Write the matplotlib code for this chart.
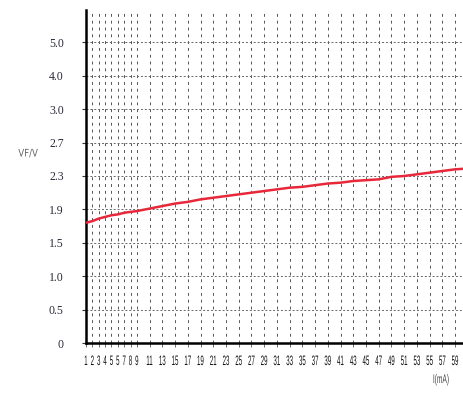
import numpy as np
import matplotlib
matplotlib.use("Agg")
import matplotlib.pyplot as plt
from matplotlib import patheffects
from matplotlib.transforms import Affine2D

# Forward current (mA) and forward voltage (V)
current_ma = [1, 2, 3, 4, 5, 6, 7, 8, 9, 11, 13, 15, 17, 19, 21, 23, 25, 27, 29,
              31, 33, 35, 37, 39, 41, 43, 45, 47, 49, 51, 53, 55, 57, 59, 61]
vf_volts = [1.74, 1.76, 1.79, 1.81, 1.83, 1.84, 1.86, 1.87, 1.88, 1.91, 1.94,
            1.97, 1.99, 2.02, 2.04, 2.06, 2.08, 2.10, 2.12, 2.14, 2.16, 2.17,
            2.19, 2.21, 2.22, 2.24, 2.25, 2.26, 2.29, 2.30, 2.32, 2.34, 2.36,
            2.38, 2.39]

# Voltage axis levels (drawn equally spaced)
y_levels = [0, 0.5, 1.0, 1.5, 1.9, 2.3, 2.7, 3.0, 4.0, 5.0]
y_labels = ["0", "0.5", "1.0", "1.5", "1.9", "2.3", "2.7", "3.0", "4.0", "5.0"]

# Current axis ticks
x_ticks = [1, 2, 3, 4, 5, 6, 7, 8, 9] + list(range(11, 60, 2))
x_labels = ["1", "2", "3", "4", "5", "5", "7", "8", "9"] + [str(v) for v in range(11, 60, 2)]


class Tall(patheffects.AbstractPathEffect):
    """Draw text stretched about its top centre (tall, narrow lettering)."""

    def __init__(self, sx=1.0, sy=1.0):
        super().__init__()
        self.sx, self.sy = sx, sy

    def draw_path(self, renderer, gc, tpath, affine, rgbFace=None):
        v = tpath.vertices
        if len(v):
            cx = 0.5 * (v[:, 0].min() + v[:, 0].max())
            top = v[:, 1].max()
        else:
            cx = top = 0.0
        stretch = (Affine2D().translate(-cx, -top)
                   .scale(self.sx, self.sy).translate(cx, top))
        renderer.draw_path(gc, tpath, stretch + affine, rgbFace)


# Piecewise-linear scale that spaces the voltage levels evenly
lvl_ext = np.array(y_levels + [6.0])
pos_ext = np.arange(len(lvl_ext), dtype=float)


def forward(v):
    return np.interp(np.asarray(v, dtype=float), lvl_ext, pos_ext)


def inverse(p):
    return np.interp(np.asarray(p, dtype=float), pos_ext, lvl_ext)


fig = plt.figure(figsize=(4.64, 3.98), dpi=100)
ax = fig.add_axes([86 / 464, 1 - 343 / 398, 1 - 86 / 464, (343 - 10) / 398])
ax.set_yscale("function", functions=(forward, inverse))

ax.plot(current_ma, vf_volts, color="#e8283a", lw=1.8, solid_capstyle="butt", zorder=3)

ax.set_xlim(1, 60.4)
ax.set_ylim(0, inverse(9.97))

ax.set_yticks(y_levels)
ax.set_yticklabels(y_labels, fontsize=8.5, color="#2a2a38", family=["Liberation Serif"])
ax.set_xticks(x_ticks)
ax.set_xticklabels(x_labels, fontsize=5.2, color="#111111", family=["Liberation Sans"])
for lbl in ax.get_xticklabels():
    lbl.set_path_effects([Tall(0.85, 1.9)])
ax.yaxis.set_minor_locator(matplotlib.ticker.NullLocator())
ax.xaxis.set_minor_locator(matplotlib.ticker.NullLocator())

ax.tick_params(axis="y", length=3, width=0.8, pad=13, color="#333333")
ax.tick_params(axis="x", length=3, width=0.6, pad=6, color="#555555")

ax.grid(True, axis="x", color="#555555", lw=0.7, linestyle=(0, (3, 4)))
ax.grid(True, axis="y", color="#666666", lw=0.7, linestyle=(0, (2, 2)))

for side in ("top", "right"):
    ax.spines[side].set_visible(False)
ax.spines["left"].set_linewidth(1.8)
ax.spines["bottom"].set_linewidth(1.8)

fig.text(28 / 464, 1 - 153 / 398, "VF/V", fontsize=6.5, color="#666666",
         va="center", ha="center", path_effects=[Tall(0.95, 1.15)])
fig.text(441 / 464, 1 - 374 / 398, "I(mA)", fontsize=5, color="#444444",
         va="top", ha="center", family=["Liberation Sans"],
         path_effects=[Tall(0.95, 1.8)])

fig.savefig("out.png", dpi=100)
